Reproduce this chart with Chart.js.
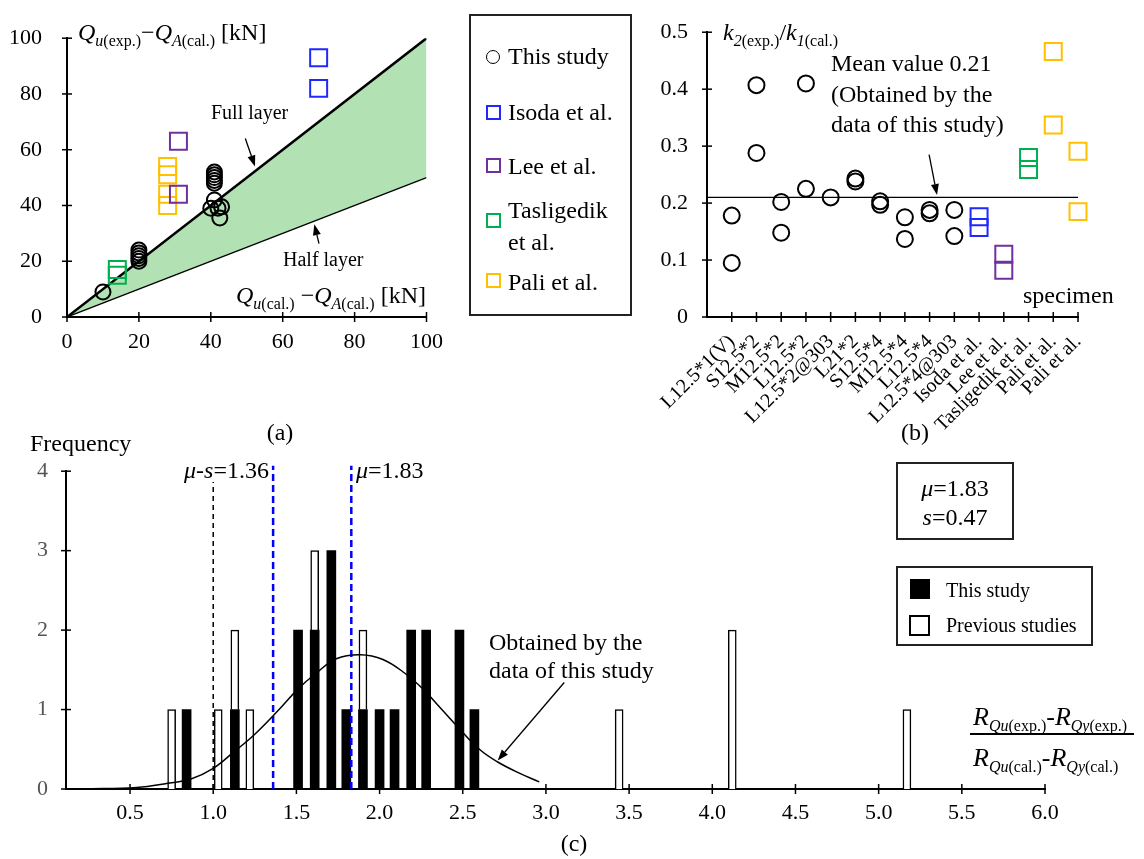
<!DOCTYPE html>
<html>
<head>
<meta charset="utf-8">
<script src="https://cdn.jsdelivr.net/npm/chart.js@4.4.1/dist/chart.umd.min.js"></script>
<style>
  body { margin: 0; background: #fff; }
  #fig { position: relative; width: 1144px; height: 859px; overflow: hidden;
         font-family: 'Liberation Serif', 'Times New Roman', serif; color: #000; }
  canvas { position: absolute; }
  .t { position: absolute; white-space: nowrap; line-height: 1; transform: translateY(-50%); }
  .c { transform: translate(-50%, -50%); }
  .sb { font-size: 16px; position: relative; top: 6px; }
  .box { position: absolute; border: 2px solid #222; box-sizing: border-box; }
  .mk { position: absolute; box-sizing: border-box; }
</style>
</head>
<body>
<div id="fig">
  <canvas id="chartA" width="455" height="365" style="left:0;top:0;width:455px;height:365px"></canvas>
  <canvas id="chartB" width="524" height="445" style="left:620px;top:0;width:524px;height:445px"></canvas>
  <canvas id="chartC" width="1144" height="419" style="left:0;top:440px;width:1144px;height:419px"></canvas>

  <!-- (a) axis titles and notes -->
  <div class="t" style="left:78px;top:32px;font-size:24px"><i>Q</i><span class="sb"><i>u</i>(exp.)</span>−<i>Q</i><span class="sb"><i>A</i>(cal.)</span> [kN]</div>
  <div class="t" style="left:236px;top:295px;font-size:24px"><i>Q</i><span class="sb"><i>u</i>(cal.)</span> −<i>Q</i><span class="sb"><i>A</i>(cal.)</span> [kN]</div>
  <div class="t" style="left:211px;top:112px;font-size:20px">Full layer</div>
  <div class="t" style="left:283px;top:259px;font-size:20px">Half layer</div>
  <div class="t c" style="left:280px;top:432px;font-size:24px">(a)</div>

  <!-- (a) legend -->
  <div class="box" style="left:469px;top:14px;width:163px;height:302px"></div>
  <div class="mk" style="left:486px;top:50px;width:14px;height:14px;border:1.5px solid #000;border-radius:50%"></div>
  <div class="mk" style="left:486px;top:105px;width:15px;height:15px;border:2px solid rgb(30,40,255)"></div>
  <div class="mk" style="left:486px;top:158px;width:15px;height:15px;border:2px solid rgb(112,48,160)"></div>
  <div class="mk" style="left:486px;top:213px;width:15px;height:15px;border:2px solid rgb(0,176,80)"></div>
  <div class="mk" style="left:486px;top:273px;width:15px;height:15px;border:2px solid rgb(255,192,0)"></div>
  <div class="t" style="left:508px;top:56px;font-size:24px">This study</div>
  <div class="t" style="left:508px;top:112px;font-size:24px">Isoda et al.</div>
  <div class="t" style="left:508px;top:166px;font-size:24px">Lee et al.</div>
  <div class="t" style="left:508px;top:210px;font-size:24px">Tasligedik</div>
  <div class="t" style="left:508px;top:242px;font-size:24px">et al.</div>
  <div class="t" style="left:508px;top:282px;font-size:24px">Pali et al.</div>

  <!-- (b) notes -->
  <div class="t" style="left:723px;top:32px;font-size:24px"><i>k</i><span class="sb"><i>2</i>(exp.)</span>/<i>k</i><span class="sb"><i>1</i>(cal.)</span></div>
  <div style="position:absolute;left:831px;top:48px;font-size:24px;line-height:30.5px;white-space:nowrap">Mean value 0.21<br>(Obtained by the<br>data of this study)</div>
  <div class="t" style="left:1023px;top:295px;font-size:24px">specimen</div>
  <div class="t c" style="left:915px;top:432px;font-size:24px">(b)</div>

  <!-- (c) notes -->
  <div class="t" style="left:30px;top:443px;font-size:24px">Frequency</div>
  <div class="t" style="left:182px;top:470px;font-size:24px;background:#fff;padding:0 2px"><i>μ</i>-<i>s</i>=1.36</div>
  <div class="t" style="left:356px;top:470px;font-size:24px"><i>μ</i>=1.83</div>
  <div style="position:absolute;left:489px;top:628px;font-size:24px;line-height:28px;white-space:nowrap">Obtained by the<br>data of this study</div>
  <div class="box" style="left:896px;top:462px;width:118px;height:78px"></div>
  <div class="t c" style="left:955px;top:488px;font-size:24px"><i>μ</i>=1.83</div>
  <div class="t c" style="left:955px;top:517px;font-size:24px"><i>s</i>=0.47</div>
  <div class="box" style="left:896px;top:566px;width:197px;height:80px"></div>
  <div class="mk" style="left:910px;top:579px;width:20px;height:20px;background:#000"></div>
  <div class="mk" style="left:909px;top:615px;width:21px;height:21px;border:2px solid #000"></div>
  <div class="t" style="left:946px;top:590px;font-size:20px">This study</div>
  <div class="t" style="left:946px;top:625px;font-size:20px">Previous studies</div>
  <div class="t" style="left:973px;top:717px;font-size:26px"><i>R</i><span class="sb"><i>Qu</i>(exp.)</span>-<i>R</i><span class="sb"><i>Qy</i>(exp.)</span></div>
  <div class="mk" style="left:970px;top:733px;width:164px;height:1.5px;background:#000"></div>
  <div class="t" style="left:973px;top:758px;font-size:26px"><i>R</i><span class="sb"><i>Qu</i>(cal.)</span>-<i>R</i><span class="sb"><i>Qy</i>(cal.)</span></div>
  <div class="t c" style="left:574px;top:843px;font-size:24px">(c)</div>
</div>

<script>
// (a) experimental vs calculated strength increment [kN]
const qCalThis = [10, 20, 20, 20, 20, 20, 41, 41, 41, 41, 41, 41, 40, 42, 43, 42.5];
const qExpThis = [9, 20, 21, 22, 23, 24, 48, 49, 50, 51, 52, 42, 39, 39, 39.5, 35.5];
const qCalIsoda = [70, 70];
const qExpIsoda = [93, 82];
const qCalLee = [31, 31];
const qExpLee = [63, 44];
const qCalTas = [14, 14];
const qExpTas = [17, 15];
const qCalPali = [28, 28, 28, 28];
const qExpPali = [54, 51, 44, 40];
const layerX = [0, 100];
const fullLayerY = [0, 100];
const halfLayerY = [0, 50];

// (b) stiffness ratio per specimen
const specimens = ['L12.5*1(V)', 'S12.5*2', 'M12.5*2', 'L12.5*2', 'L12.5*2@303', 'L21*2',
    'S12.5*4', 'M12.5*4', 'L12.5*4', 'L12.5*4@303', 'Isoda et al.', 'Lee et al.',
    'Tasligedik et al.', 'Pali et al.', 'Pali et al.'];
const kThisPos = [1, 1, 2, 2, 3, 3, 4, 4, 5, 6, 6, 7, 7, 8, 8, 9, 9, 10, 10];
const kThis = [0.178, 0.095, 0.407, 0.288, 0.202, 0.148, 0.41, 0.225, 0.21, 0.243, 0.238,
    0.203, 0.197, 0.175, 0.137, 0.188, 0.182, 0.188, 0.142];
const kIsodaPos = [11, 11];
const kIsoda = [0.176, 0.157];
const kLeePos = [12, 12];
const kLee = [0.11, 0.082];
const kTasPos = [13, 13];
const kTas = [0.28, 0.259];
const kPaliPos = [14, 14, 15, 15];
const kPali = [0.466, 0.337, 0.291, 0.185];
const kMean = 0.21;

// (c) histogram of the strength ratio
const binThis = [0.84, 1.13, 1.51, 1.61, 1.71, 1.80, 1.90, 2.00, 2.09, 2.19, 2.28, 2.48, 2.57];
const countThis = [1, 1, 2, 2, 3, 1, 1, 1, 1, 2, 2, 2, 1];
const binPrev = [0.75, 1.03, 1.13, 1.22, 1.61, 1.90, 3.44, 4.12, 5.17];
const countPrev = [1, 1, 1, 1, 1, 1, 1, 2, 1];
const fitX = [0.22, 0.54, 0.72, 0.87, 1.0, 1.12, 1.25, 1.40, 1.51, 1.62, 1.74, 1.885, 2.02,
    2.15, 2.26, 2.37, 2.475, 2.60, 2.71, 2.84, 2.96];
const fitY = [0, 0.02, 0.07, 0.13, 0.26, 0.46, 0.69, 1.01, 1.26, 1.46, 1.64, 1.69, 1.63,
    1.46, 1.26, 1.01, 0.77, 0.50, 0.34, 0.20, 0.09];
const ratioOne = 1.0;
const mu = 1.83;
const muMinusS = 1.36;
const refTop = 4.07;
const ratioTicks = [0.5, 1.0, 1.5, 2.0, 2.5, 3.0, 3.5, 4.0, 4.5, 5.0, 5.5, 6.0];

// leader arrows, [from, to] in data units
const arrowsA = [[[49.6, 64], [52.3, 54]], [[70.1, 26.3], [68.8, 33.3]]];
const arrowsB = [[[8.98, 0.285], [9.3, 0.214]]];
const arrowsC = [[[3.11, 1.34], [2.71, 0.36]]];

const BLUE = 'rgb(30,40,255)', PURPLE = 'rgb(112,48,160)', GREEN = 'rgb(0,176,80)', GOLD = 'rgb(255,192,0)';

Chart.defaults.font.family = "'Liberation Serif', 'Times New Roman', serif";
Chart.defaults.color = '#000';

const zip = (xs, ys) => xs.map((x, i) => ({ x: x, y: ys[i] }));

function marks(label, xs, ys, style, color, r) {
    return {
        label: label, data: zip(xs, ys), showLine: false, clip: false,
        pointStyle: style, pointRadius: r, pointBorderWidth: 2,
        pointBorderColor: color, pointBackgroundColor: 'rgba(0,0,0,0)',
        borderColor: color, backgroundColor: 'rgba(0,0,0,0)'
    };
}

// tick marks that cross the axis line
const crossTicks = {
    id: 'crossTicks',
    afterDraw(chart, args, opts) {
        const ctx = chart.ctx, sx = chart.scales.x, sy = chart.scales.y, len = opts.len || 5;
        ctx.save();
        ctx.strokeStyle = '#000';
        ctx.lineWidth = 1.5;
        for (const t of sx.ticks) {
            const px = sx.getPixelForValue(t.value);
            ctx.beginPath(); ctx.moveTo(px, sx.top - len); ctx.lineTo(px, sx.top + len); ctx.stroke();
        }
        for (const t of sy.ticks) {
            const py = sy.getPixelForValue(t.value);
            ctx.beginPath(); ctx.moveTo(sy.right - len, py); ctx.lineTo(sy.right + len, py); ctx.stroke();
        }
        ctx.restore();
    }
};

const arrows = {
    id: 'arrows',
    afterDatasetsDraw(chart, args, opts) {
        const ctx = chart.ctx, sx = chart.scales.x, sy = chart.scales.y;
        for (const [from, to] of opts.list || []) {
            const x0 = sx.getPixelForValue(from[0]), y0 = sy.getPixelForValue(from[1]);
            const x1 = sx.getPixelForValue(to[0]), y1 = sy.getPixelForValue(to[1]);
            const a = Math.atan2(y1 - y0, x1 - x0), L = 11, W = 4;
            const bx = x1 - L * Math.cos(a), by = y1 - L * Math.sin(a);
            ctx.save();
            ctx.strokeStyle = '#000';
            ctx.fillStyle = '#000';
            ctx.lineWidth = 1.3;
            ctx.beginPath(); ctx.moveTo(x0, y0); ctx.lineTo(bx, by); ctx.stroke();
            ctx.beginPath();
            ctx.moveTo(x1, y1);
            ctx.lineTo(bx + W * Math.sin(a), by - W * Math.cos(a));
            ctx.lineTo(bx - W * Math.sin(a), by + W * Math.cos(a));
            ctx.closePath();
            ctx.fill();
            ctx.restore();
        }
    }
};

const axisBorder = { color: '#000', width: 2 };
const noGrid = { display: false, drawTicks: false };

// (a)
new Chart(document.getElementById('chartA'), {
    type: 'line',
    data: {
        datasets: [
            marks('This study', qCalThis, qExpThis, 'circle', '#000', 7.5),
            marks('Isoda et al.', qCalIsoda, qExpIsoda, 'rect', BLUE, 12),
            marks('Lee et al.', qCalLee, qExpLee, 'rect', PURPLE, 12),
            marks('Tasligedik et al.', qCalTas, qExpTas, 'rect', GREEN, 12),
            marks('Pali et al.', qCalPali, qExpPali, 'rect', GOLD, 12),
            { label: 'Full layer', data: zip(layerX, fullLayerY), borderColor: '#000', borderWidth: 2.5, pointRadius: 0, fill: false },
            { label: 'Half layer', data: zip(layerX, halfLayerY), borderColor: '#000', borderWidth: 1.3, pointRadius: 0,
              fill: '-1', backgroundColor: 'rgb(178,226,180)' }
        ]
    },
    options: {
        responsive: false,
        animation: false,
        layout: { padding: { top: 17, right: 23, left: 0, bottom: 0 } },
        plugins: { legend: { display: false }, tooltip: { enabled: false }, crossTicks: { len: 5 }, arrows: { list: arrowsA } },
        scales: {
            x: {
                type: 'linear', min: 0, max: 100,
                grid: noGrid, border: axisBorder,
                ticks: { stepSize: 20, padding: 12, font: { size: 22 } },
                afterFit(s) { s.height = 48; }
            },
            y: {
                type: 'linear', min: 0, max: 100,
                grid: noGrid, border: axisBorder,
                ticks: { stepSize: 20, padding: 25, font: { size: 22 } },
                afterFit(s) { s.width = 67; }
            }
        }
    },
    plugins: [crossTicks, arrows]
});

// (b)
new Chart(document.getElementById('chartB'), {
    type: 'line',
    data: {
        datasets: [
            marks('This study', kThisPos, kThis, 'circle', '#000', 8),
            marks('Isoda et al.', kIsodaPos, kIsoda, 'rect', BLUE, 12),
            marks('Lee et al.', kLeePos, kLee, 'rect', PURPLE, 12),
            marks('Tasligedik et al.', kTasPos, kTas, 'rect', GREEN, 12),
            marks('Pali et al.', kPaliPos, kPali, 'rect', GOLD, 12),
            { label: 'Mean', data: [{ x: 0, y: kMean }, { x: specimens.length, y: kMean }],
              borderColor: '#000', borderWidth: 1.3, pointRadius: 0, fill: false }
        ]
    },
    options: {
        responsive: false,
        animation: false,
        layout: { padding: { top: 17, right: 66, left: 0, bottom: 0 } },
        plugins: { legend: { display: false }, tooltip: { enabled: false }, crossTicks: { len: 5 }, arrows: { list: arrowsB } },
        scales: {
            x: {
                type: 'linear', min: 0, max: specimens.length,
                grid: noGrid, border: axisBorder,
                afterBuildTicks(s) { s.ticks = specimens.map((_, i) => ({ value: i + 1 })); },
                ticks: {
                    autoSkip: false, minRotation: 45, maxRotation: 45, padding: 13,
                    font: { size: 20 },
                    callback: v => specimens[v - 1]
                },
                afterFit(s) { s.height = 128; }
            },
            y: {
                type: 'linear', min: 0, max: 0.5,
                grid: noGrid, border: axisBorder,
                ticks: { stepSize: 0.1, padding: 19, font: { size: 22 } },
                afterFit(s) { s.width = 87; }
            }
        }
    },
    plugins: [crossTicks, arrows]
});

// (c)
const vline = (x, color, dash, width, stack) => ({
    type: 'line', data: [{ x: x, y: 0 }, { x: x, y: refTop }], borderColor: color, borderDash: dash,
    borderWidth: width, pointRadius: 0, fill: false, stack: stack, clip: false, order: 0
});

new Chart(document.getElementById('chartC'), {
    type: 'bar',
    data: {
        datasets: [
            { type: 'bar', label: 'This study', data: zip(binThis, countThis), backgroundColor: '#000',
              borderColor: '#000', borderWidth: 0, barThickness: 9, order: 1 },
            { type: 'bar', label: 'Previous studies', data: zip(binPrev, countPrev), backgroundColor: '#fff',
              borderColor: '#000', borderWidth: 1.5, barThickness: 8, order: 1 },
            { type: 'line', label: 'Fit', data: zip(fitX, fitY), borderColor: '#000', borderWidth: 1.5,
              pointRadius: 0, tension: 0.4, fill: false, stack: 'fit', order: 0 },
            vline(ratioOne, '#000', [5, 4], 1.5, 'one'),
            vline(muMinusS, 'rgb(0,0,255)', [7, 4], 2.5, 'mus'),
            vline(mu, 'rgb(0,0,255)', [7, 4], 2.5, 'mu')
        ]
    },
    options: {
        responsive: false,
        animation: false,
        layout: { padding: { top: 23, right: 99, left: 0, bottom: 0 } },
        plugins: { legend: { display: false }, tooltip: { enabled: false }, crossTicks: { len: 5 }, arrows: { list: arrowsC } },
        scales: {
            x: {
                type: 'linear', min: 0.115, max: 6.0, stacked: true, offset: false,
                grid: { display: false, drawTicks: false, offset: false }, border: axisBorder,
                afterBuildTicks(s) { s.ticks = ratioTicks.map(v => ({ value: v })); },
                ticks: { padding: 11, font: { size: 22 }, callback: v => v.toFixed(1) },
                afterFit(s) { s.height = 70; }
            },
            y: {
                type: 'linear', min: 0, max: 4, stacked: true,
                grid: noGrid, border: axisBorder,
                ticks: { stepSize: 1, padding: 18, color: '#555', font: { size: 22 } },
                afterFit(s) { s.width = 66; }
            }
        }
    },
    plugins: [crossTicks, arrows]
});
</script>
</body>
</html>
